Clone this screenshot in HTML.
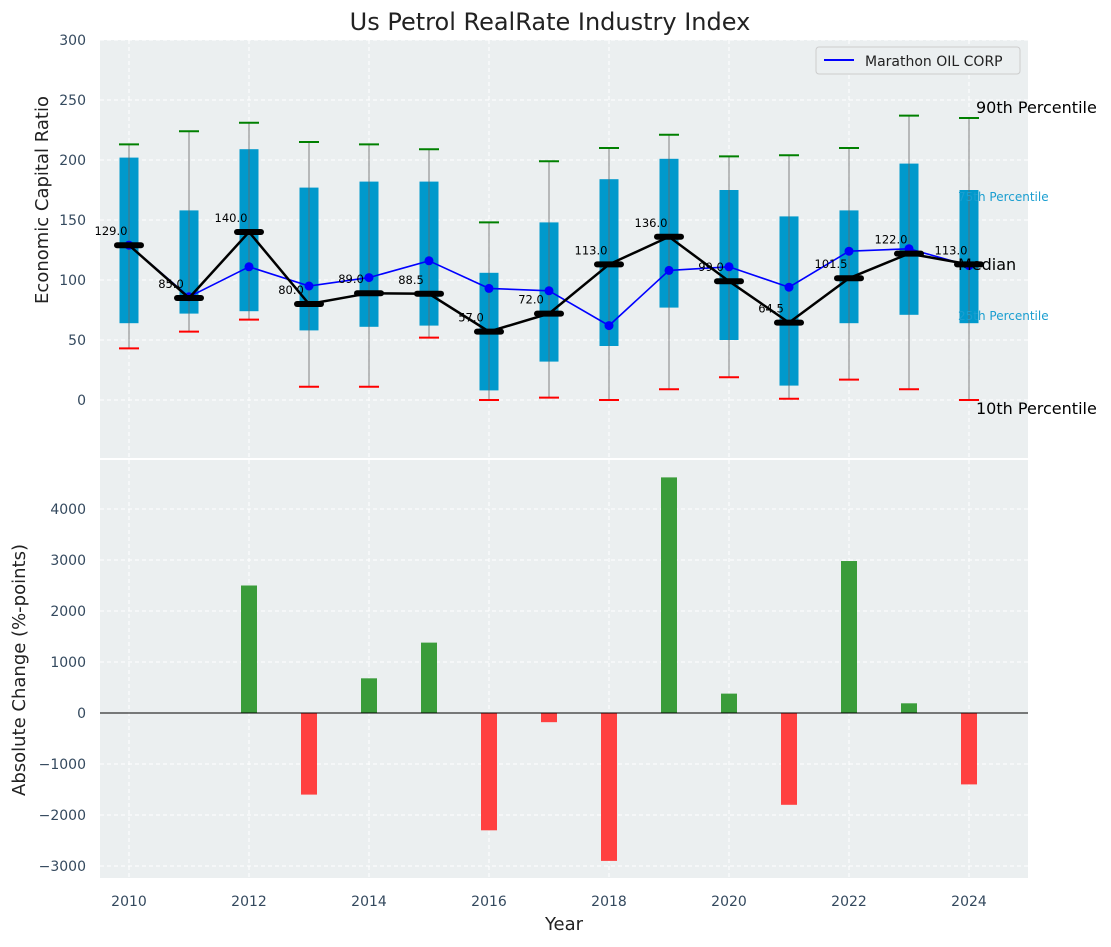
<!DOCTYPE html>
<html><head><meta charset="utf-8"><style>
body{margin:0;background:#fff}
svg{font-family:"DejaVu Sans","Liberation Sans",sans-serif}
</style></head><body>
<svg id="c" width="1111" height="942" viewBox="0 0 1111 942" xmlns="http://www.w3.org/2000/svg">
<text x="550" y="30" font-size="24" text-anchor="middle" fill="#222">Us Petrol RealRate Industry Index</text>
<rect x="100" y="40" width="928" height="418" fill="#ebeff0"/>
<rect x="100" y="460" width="928" height="418" fill="#ebeff0"/>
<g id="grid"></g>
<g id="gtop"></g>
<g id="gbot"></g>
<text x="48" y="200" font-size="18" fill="#222" text-anchor="middle" transform="rotate(-90 48 200)">Economic Capital Ratio</text>
<text x="25" y="670" font-size="18" fill="#222" text-anchor="middle" transform="rotate(-90 25 670)">Absolute Change (%-points)</text>
<text x="564" y="930" font-size="18" fill="#222" text-anchor="middle">Year</text>
<g>
<rect x="816" y="47" width="204" height="27" rx="3" fill="#ebeff0" stroke="#ccc"/>
<line x1="824" y1="60" x2="854" y2="60" stroke="#0000ff" stroke-width="2"/>
<text x="865" y="66" font-size="14" fill="#222">Marathon OIL CORP</text>
</g>
<g id="labels">
<text x="976" y="113" font-size="16" fill="#000">90th Percentile</text>
<text x="958" y="201" font-size="12" fill="#1a9ed0">75th Percentile</text>
<text x="958" y="270" font-size="16" fill="#000">Median</text>
<text x="958" y="320" font-size="12" fill="#1a9ed0">25th Percentile</text>
<text x="976" y="414" font-size="16" fill="#000">10th Percentile</text>
</g>
</svg>
<script>
const years=[2010,2011,2012,2013,2014,2015,2016,2017,2018,2019,2020,2021,2022,2023,2024];
const p10=[43,57,67,11,11,52,0,2,0,9,19,1,17,9,0];
const p25=[64,72,74,58,61,62,8,32,45,77,50,12,64,71,64];
const p75=[202,158,209,177,182,182,106,148,184,201,175,153,158,197,175];
const p90=[213,224,231,215,213,209,148,199,210,221,203,204,210,237,235];
const medians=[129,85,140,80,89,88.5,57,72,113,136,99,64.5,101.5,122,113];
const company=[129,86,111,95,102,116,93,91,62,108,111,94,124,126,112];
const changes=[0,0,2500,-1600,680,1380,-2300,-180,-2900,4620,380,-1800,2980,190,-1400];
const xTicks=[2010,2012,2014,2016,2018,2020,2022,2024];
const yTopTicks=[0,50,100,150,200,250,300];
const yBotTicks=[-3000,-2000,-1000,0,1000,2000,3000,4000];
const NS="http://www.w3.org/2000/svg";
const X=v=>129+(v-2010)*60;
const YT=v=>400-v*1.2;
const YB=v=>713-v*0.051;
function mk(p,t,a){const e=document.createElementNS(NS,t);for(const k in a)e.setAttribute(k,a[k]);p.appendChild(e);return e;}
const svgEl=document.getElementById('c');
const gGrid=document.getElementById('grid'),gTop=document.getElementById('gtop'),gBot=document.getElementById('gbot');
xTicks.forEach(t=>{
 [[40,458],[460,878]].forEach(r=>{const l=mk(gGrid,'line',{x1:X(t),x2:X(t),y1:r[0],y2:r[1],stroke:'#fff','stroke-dasharray':'4,3'});
 
 });
 const tx=mk(svgEl,'text',{x:X(t),y:906,'font-size':14,fill:'#34495e','text-anchor':'middle'});tx.textContent=t;
 
 
});
yTopTicks.forEach(t=>{
 const l=mk(gGrid,'line',{x1:100,x2:1028,y1:YT(t),y2:YT(t),stroke:'#fff','stroke-dasharray':'4,3'});
 
 
 const tx=mk(svgEl,'text',{x:86,y:YT(t)+5,'font-size':14,fill:'#34495e','text-anchor':'end'});tx.textContent=t;
 
 
});
yBotTicks.forEach(t=>{
 const l=mk(gGrid,'line',{x1:100,x2:1028,y1:YB(t),y2:YB(t),stroke:'#fff','stroke-dasharray':'4,3'});
 
 
 const tx=mk(svgEl,'text',{x:86,y:YB(t)+5,'font-size':14,fill:'#34495e','text-anchor':'end'});tx.textContent=(t<0?'\u2212'+(-t):t);
 
 
});
years.forEach((y,i)=>{
 const x=X(y);
 const b=mk(gTop,'rect',{x:x-9.5,y:YT(p75[i]),width:19,height:YT(p25[i])-YT(p75[i]),fill:'#0099cc'});
 
 
 const w=mk(gTop,'line',{x1:x,x2:x,y1:YT(p90[i]),y2:YT(p10[i]),stroke:'#666','stroke-width':1,'stroke-opacity':0.8});
 
 
 const g=mk(gTop,'line',{x1:x-10,x2:x+10,y1:YT(p90[i]),y2:YT(p90[i]),stroke:'green','stroke-width':2});
 
 
 const r=mk(gTop,'line',{x1:x-10,x2:x+10,y1:YT(p10[i]),y2:YT(p10[i]),stroke:'red','stroke-width':2});
 
 
 const c=changes[i];
 if(c!==0){const br=mk(gBot,'rect',{x:x-8,y:Math.min(YB(c),YB(0)),width:16,height:Math.abs(YB(c)-YB(0)),fill:c>0?'#3a9c3a':'#ff4040'});
 
 }
});
const zl=mk(gBot,'line',{x1:100,x2:1028,y1:YB(0),y2:YB(0),stroke:'#000','stroke-width':1});


const bl=mk(gTop,'polyline',{points:years.map((y,i)=>X(y)+','+YT(company[i])).join(' '),fill:'none',stroke:'#0000ff','stroke-width':1.6});


years.forEach((y,i)=>{const d=mk(gTop,'circle',{cx:X(y),cy:YT(company[i]),r:4.5,fill:'#0000ff'});
 
 });
const ml=mk(gTop,'polyline',{points:years.map((y,i)=>X(y)+','+YT(medians[i])).join(' '),fill:'none',stroke:'#000','stroke-width':2.5});


years.forEach((y,i)=>{
 const x=X(y),yy=YT(medians[i]);
 const m=mk(gTop,'line',{x1:x-12,x2:x+12,y1:yy,y2:yy,stroke:'#000','stroke-width':6,'stroke-linecap':'round'});
 
 
 const t=mk(gTop,'text',{x:x-18,y:yy-10,'font-size':11.5,fill:'#000','text-anchor':'middle'});
 t.textContent=medians[i].toFixed(1);
 
 
});
</script>
</body></html>
